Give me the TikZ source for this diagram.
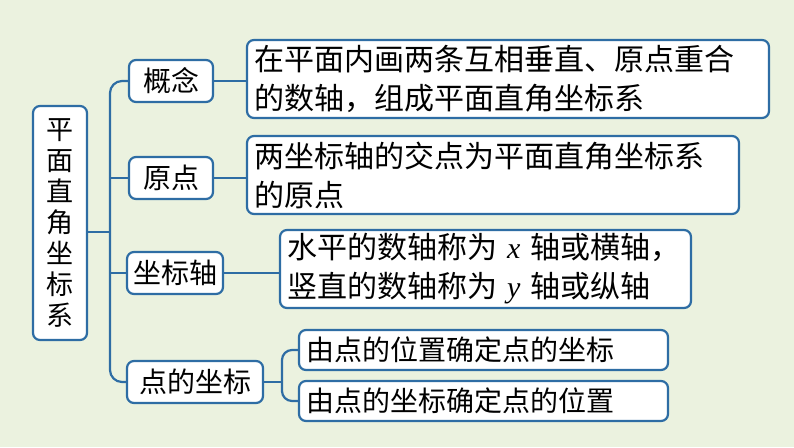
\documentclass[tikz,border=0pt]{standalone}
\usepackage{fontspec}
\setmainfont{Noto Sans CJK SC}
\newfontfamily\mathlike{Liberation Serif}
\begin{document}
\begin{tikzpicture}[x=1pt,y=-1pt,
  bx/.style={draw=lineblue,line width=2.2pt,rounded corners=7pt,fill=white,inner sep=0pt,font=\fontsize{28}{38}\selectfont,align=left},
  big/.style={bx,font=\fontsize{30}{39}\selectfont},
  ln/.style={draw=lineblue,line width=2.2pt}]
\definecolor{lineblue}{HTML}{2E6DA4}
\definecolor{bg}{HTML}{EBF2DF}
\fill[bg] (0,0) rectangle (794,447);
\useasboundingbox (0,0) rectangle (794,447);
\node[bx,minimum width=54pt,minimum height=234pt,align=center,font=\fontsize{27}{31}\selectfont] (m) at (60,223) {平\\面\\直\\角\\坐\\标\\系};
\node[bx,minimum width=84pt,minimum height=42pt] (a) at (171,81) {概念};
\node[bx,minimum width=84pt,minimum height=42pt] (b) at (171,178) {原点};
\node[bx,minimum width=96pt,minimum height=42pt] (c) at (175,273) {坐标轴};
\node[bx,minimum width=136pt,minimum height=42pt] (d) at (195,382) {点的坐标};
\node[big,minimum width=522pt,minimum height=78pt,text width=508pt] (a1) at (508,79) {在平面内画两条互相垂直、原点重合\\的数轴，组成平面直角坐标系};
\node[big,minimum width=492pt,minimum height=78pt,text width=478pt] (b1) at (493,175) {两坐标轴的交点为平面直角坐标系\\的原点};
\node[big,minimum width=411pt,minimum height=78pt,text width=397pt] (c1) at (485.5,269) {水平的数轴称为 {\mathlike\itshape x} 轴或横轴，\\竖直的数轴称为 {\mathlike\itshape y} 轴或纵轴};
\node[bx,minimum width=369pt,minimum height=40pt,text width=355pt] (d1) at (483.5,350) {由点的位置确定点的坐标};
\node[bx,minimum width=369pt,minimum height=40pt,text width=355pt] (d2) at (483.5,401) {由点的坐标确定点的位置};
\coordinate (v) at (110,232);
\draw[ln,rounded corners=12pt] (a.west) -| (v) |- (d.west);
\draw[ln,rounded corners=10pt] (m.east |- v) -- (v);
\draw[ln] (110,178) -- (b.west);
\draw[ln] (110,273) -- (c.west);
\draw[ln] (a.east) -- (a.east -| a1.west);
\draw[ln] (b.east) -- (b.east -| b1.west);
\draw[ln] (c.east) -- (c.east -| c1.west);
\coordinate (w) at (282,382);
\draw[ln,rounded corners=10pt] (d1.west) -| (w) |- (d2.west);
\draw[ln] (d.east) -- (w);
\end{tikzpicture}
\end{document}
